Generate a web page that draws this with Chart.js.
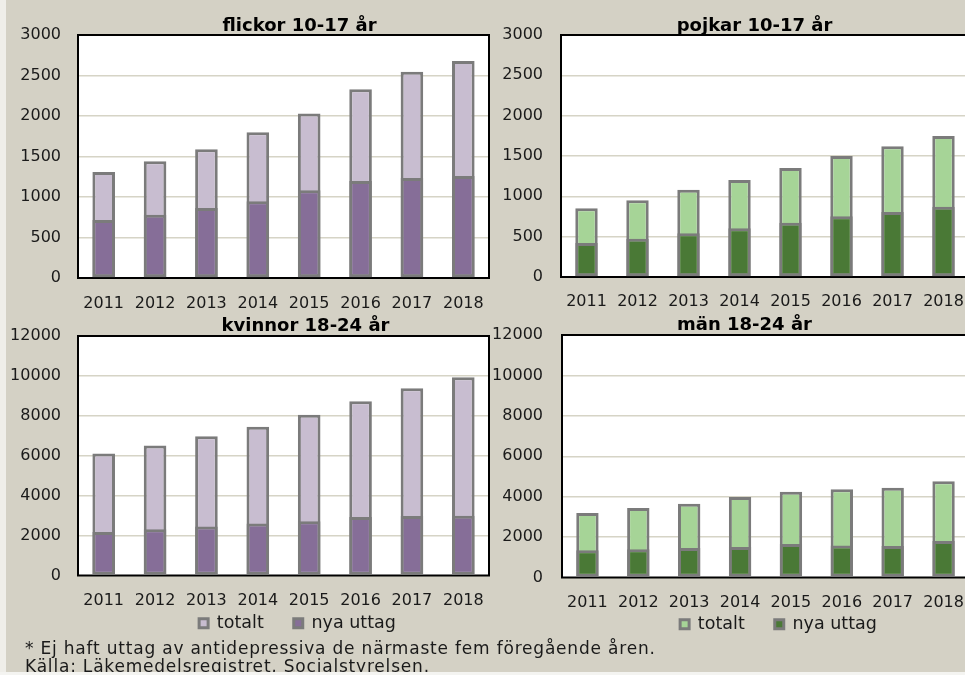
<!DOCTYPE html>
<html>
<head>
<meta charset="utf-8">
<script src="https://cdn.jsdelivr.net/npm/chart.js@4.4.1/dist/chart.umd.min.js"></script>
<style>
  html, body { margin: 0; padding: 0; }
  body { width: 965px; height: 675px; overflow: hidden; position: relative; background: #d4d1c5; font-family: "DejaVu Sans", sans-serif; }
  canvas { position: absolute; }
  #strip { position: absolute; left: 0; top: 0; width: 6px; height: 675px; background: #efeee9; }
  #bottom { position: absolute; left: 0; top: 672px; width: 965px; height: 3px; background: #f4f4f1; }
  .note { position: absolute; left: 25px; font-size: 17px; letter-spacing: 0.8px; color: #1a1a1a; white-space: nowrap; line-height: 18px; }
</style>
</head>
<body>
<div id="strip"></div>
<canvas id="c1" width="490" height="320" style="left:0;top:0"></canvas>
<canvas id="c2" width="480" height="320" style="left:490px;top:0"></canvas>
<canvas id="c3" width="490" height="368" style="left:0;top:305px"></canvas>
<canvas id="c4" width="480" height="370" style="left:490px;top:305px"></canvas>
<div class="note" style="top:639px">* Ej haft uttag av antidepressiva de närmaste fem föregående åren.</div>
<div class="note" style="top:657px">Källa: Läkemedelsregistret, Socialstyrelsen.</div>
<div id="bottom"></div>
<script>
// ---- data ----
const years = ['2011', '2012', '2013', '2014', '2015', '2016', '2017', '2018'];
const seriesNames = ['totalt', 'nya uttag'];
const panelTitles = ['flickor 10-17 år', 'pojkar 10-17 år', 'kvinnor 18-24 år', 'män 18-24 år'];

const flickorTotalt = [1310, 1440, 1590, 1800, 2030, 2330, 2545, 2680];
const flickorNya    = [716, 782, 864, 947, 1082, 1198, 1235, 1259];
const pojkarTotalt  = [851, 950, 1083, 1202, 1351, 1500, 1620, 1748];
const pojkarNya     = [421, 475, 541, 603, 674, 752, 806, 872];
const kvinnorTotalt = [6117, 6517, 6983, 7450, 8050, 8733, 9383, 9933];
const kvinnorNya    = [2183, 2317, 2450, 2600, 2717, 2933, 2983, 2990];
const manTotalt     = [3189, 3436, 3649, 3978, 4241, 4373, 4438, 4767];
const manNya        = [1348, 1397, 1463, 1512, 1660, 1578, 1562, 1808];

const youngAxisMax = 3000, youngAxisStep = 500;
const adultAxisMax = 12000, adultAxisStep = 2000;

// ---- styling ----
const FONT = '"DejaVu Sans", sans-serif';
const purple = { light: '#c8bdd0', dark: '#866e98' };
const green  = { light: '#a6d497', dark: '#4a7936' };
const barBorder = '#7b7b7b';

const framePlugin = {
  id: 'frame',
  beforeDatasetsDraw(chart) {
    const a = chart.chartArea, ctx = chart.ctx;
    ctx.save();
    ctx.strokeStyle = '#000';
    ctx.lineWidth = 2;
    ctx.strokeRect(a.left, a.top, a.right - a.left, a.bottom - a.top);
    ctx.restore();
  }
};
const bgPlugin = {
  id: 'plotbg',
  beforeDraw(chart) {
    const a = chart.chartArea, ctx = chart.ctx;
    ctx.save();
    ctx.fillStyle = '#ffffff';
    ctx.fillRect(a.left, a.top, a.right - a.left, a.bottom - a.top);
    ctx.restore();
  }
};
const shiftPlugin = {
  id: 'shift',
  afterLayout(chart, args, opts) {
    if (chart.titleBlock && opts.titleDx) {
      chart.titleBlock.left += opts.titleDx;
      chart.titleBlock.right += opts.titleDx;
    }
    if (chart.legend && (opts.legendDx || opts.legendDy)) {
      chart.legend.left += opts.legendDx || 0;
      chart.legend.right += opts.legendDx || 0;
      chart.legend.top += opts.legendDy || 0;
      chart.legend.bottom += opts.legendDy || 0;
    }
  }
};

function makePanel(id, p) {
  new Chart(document.getElementById(id), {
    type: 'bar',
    data: {
      labels: years,
      datasets: [
        { label: seriesNames[0], data: p.totals, backgroundColor: p.colors.light, borderColor: barBorder,
          borderWidth: 3, borderSkipped: false, grouped: false, order: 1,
          barPercentage: 0.44, categoryPercentage: 1 },
        { label: seriesNames[1], data: p.nya, backgroundColor: p.colors.dark, borderColor: barBorder,
          borderWidth: 3, borderSkipped: false, grouped: false, order: 0,
          barPercentage: 0.44, categoryPercentage: 1 }
      ]
    },
    options: {
      responsive: false,
      animation: false,
      devicePixelRatio: 1,
      layout: { padding: { left: 0, right: p.padRight, top: 0, bottom: 0 } },
      plugins: {
        title: {
          display: true, text: p.title, color: '#000',
          font: { family: FONT, size: 18, weight: 'bold', lineHeight: 1.0 },
          padding: { top: p.titleTop, bottom: p.titleBottom }
        },
        legend: {
          display: p.legend, position: 'bottom',
          labels: {
            font: { family: FONT, size: 17.5 }, color: '#1a1a1a',
            boxWidth: 9, boxHeight: 9, padding: 30,
            sort: (a, b) => a.datasetIndex - b.datasetIndex
          }
        },
        tooltip: { enabled: false },
        shift: { titleDx: p.titleDx, legendDx: p.legendDx, legendDy: p.legendDy }
      },
      scales: {
        x: {
          grid: { display: false, drawTicks: false },
          border: { display: false },
          ticks: { font: { family: FONT, size: 16 }, color: '#1a1a1a', padding: p.xPad, maxRotation: 0, autoSkip: false },
          afterFit: (ax) => { ax.height = p.xHeight; ax.paddingLeft = 0; ax.paddingRight = 0; }
        },
        y: {
          min: 0, max: p.max,
          grid: { color: '#d6d4c6', lineWidth: 1.5, drawTicks: false },
          border: { display: false },
          ticks: { stepSize: p.step, font: { family: FONT, size: 16 }, color: '#1a1a1a', padding: p.yPad,
                   callback: (v) => String(v) },
          afterFit: (ax) => { ax.width = p.yWidth; }
        }
      }
    },
    plugins: [bgPlugin, framePlugin, shiftPlugin]
  });
}

makePanel('c1', { title: panelTitles[0], totals: flickorTotalt, nya: flickorNya, colors: purple,
  max: youngAxisMax, step: youngAxisStep, yWidth: 78, yPad: 17, padRight: 1,
  titleTop: 17, titleBottom: 0, xHeight: 42, xPad: 16, legend: false, titleDx: 55 });
makePanel('c2', { title: panelTitles[1], totals: pojkarTotalt, nya: pojkarNya, colors: green,
  max: youngAxisMax, step: youngAxisStep, yWidth: 71, yPad: 18, padRight: 1,
  titleTop: 17, titleBottom: 0, xHeight: 43, xPad: 15, legend: false, titleDx: 25 });
makePanel('c3', { title: panelTitles[2], totals: kvinnorTotalt, nya: kvinnorNya, colors: purple,
  max: adultAxisMax, step: adultAxisStep, yWidth: 78, yPad: 17, padRight: 1,
  titleTop: 12, titleBottom: 1, xHeight: 40, xPad: 16, legend: true, titleDx: 61, legendDx: 53, legendDy: -31 });
makePanel('c4', { title: panelTitles[3], totals: manTotalt, nya: manNya, colors: green,
  max: adultAxisMax, step: adultAxisStep, yWidth: 72, yPad: 19, padRight: 1,
  titleTop: 11, titleBottom: 1, xHeight: 40, xPad: 16, legend: true, titleDx: 15, legendDx: 49, legendDy: -32 });
</script>
</body>
</html>
